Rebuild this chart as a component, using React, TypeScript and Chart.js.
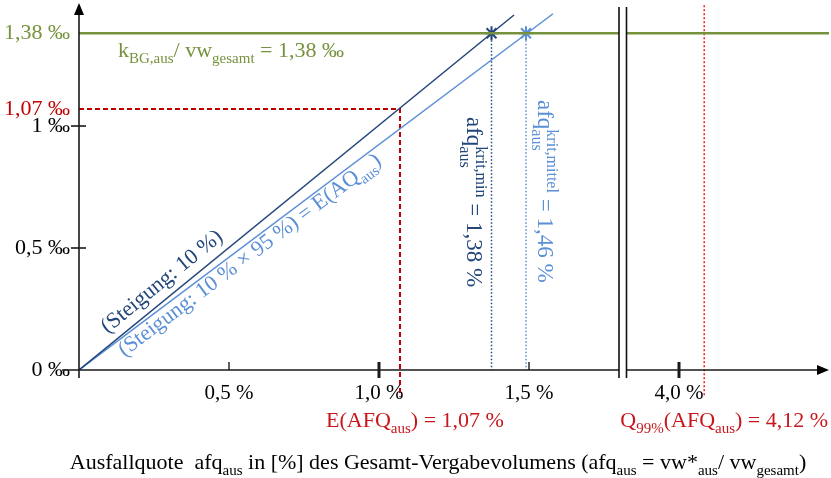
import { useEffect, useRef } from "react";
import { Chart, registerables } from "chart.js";

Chart.register(...registerables);

// ---------- data ----------
const yTickValues = [0, 0.5, 1, 1.07, 1.38]; // ‰
const yTickLabels = ["0 ‰", "0,5 ‰", "1 ‰", "1,07 ‰", "1,38 ‰"];
const xTickValues = [0.5, 1.0, 1.5, 4.0]; // %
const xTickLabels = ["0,5 %", "1,0 %", "1,5 %", "4,0 %"];

const kLimit = 1.38; // k_BG,aus / vw_gesamt in ‰
const expectedAfq = 1.07; // E(AFQ_aus) in % (and E(AQ) in ‰)
const q99Afq = 4.12; // Q99%(AFQ_aus) in %
const critMinX = 1.375; // afq krit,min (star position)
const critMittelX = 1.49; // afq krit,mittel (star position)

const darkLineX = [0, 1.45];
const darkLineY = [0, 1.455];
const lightLineX = [0, 1.58];
const lightLineY = [0, 1.46];

const guideBottom = -0.11; // guide lines reach a bit below the x axis
const guideTop = 1.495;

// broken x axis: left part shown 1:1, right part starts at 4,0 %
const X_MAX = 2.5;
const BREAK_FROM = 1.8;
const BREAK_TO = 1.825;
const RIGHT_REAL = 4.0;
const RIGHT_AT = 2.0;
const RIGHT_SCALE = 0.7;
const brk = (v: number) => (v < 3 ? v : RIGHT_AT + (v - RIGHT_REAL) * RIGHT_SCALE);

// ---------- styling ----------
const FONT = '"Liberation Serif", "Times New Roman", serif';
const DARK = "#23477a";
const LIGHT = "#5b8fd6";
const GREEN = "#76923c";
const RED = "#c00000";
const RED_TEXT = "#c8161b";
const RED_DOT = "#ff1a1a";

type Part = { t?: string; k?: "sub" | "sup"; sub?: string; sup?: string };

function drawRich(
  ctx: CanvasRenderingContext2D,
  parts: Part[],
  x: number,
  y: number,
  size: number,
  align: "left" | "center" | "right" = "left"
) {
  const small = Math.round(size * 0.68);
  const widths = parts.map((p) => {
    if (p.sub !== undefined && p.sup !== undefined) {
      ctx.font = `${small}px ${FONT}`;
      return Math.max(ctx.measureText(p.sub).width, ctx.measureText(p.sup).width);
    }
    ctx.font = `${p.k ? small : size}px ${FONT}`;
    return ctx.measureText(p.t || "").width;
  });
  const total = widths.reduce((a, b) => a + b, 0);
  let cx = align === "center" ? x - total / 2 : align === "right" ? x - total : x;
  ctx.textAlign = "left";
  ctx.textBaseline = "alphabetic";
  parts.forEach((p, i) => {
    if (p.sub !== undefined && p.sup !== undefined) {
      ctx.font = `${small}px ${FONT}`;
      ctx.fillText(p.sub, cx, y + size * 0.28);
      ctx.fillText(p.sup, cx, y - size * 0.4);
    } else {
      ctx.font = `${p.k ? small : size}px ${FONT}`;
      const dy = p.k === "sub" ? size * 0.28 : p.k === "sup" ? -size * 0.4 : 0;
      ctx.fillText(p.t || "", cx, y + dy);
    }
    cx += widths[i];
  });
}

const decorations = {
  id: "decorations",
  afterDraw(chart: any) {
    const ctx: CanvasRenderingContext2D = chart.ctx;
    const xs = chart.scales.x;
    const ys = chart.scales.y;
    const area = chart.chartArea;
    const X = (v: number) => xs.getPixelForValue(v);
    const Y = (v: number) => ys.getPixelForValue(v);
    const x0 = X(0);
    const y0 = Y(0);

    ctx.save();
    // axes
    ctx.strokeStyle = "#1a1a1a";
    ctx.fillStyle = "#000";
    ctx.lineWidth = 1.6;
    ctx.beginPath();
    ctx.moveTo(x0, y0 + 8);
    ctx.lineTo(x0, area.top + 8);
    ctx.moveTo(x0 - 17, y0);
    ctx.lineTo(area.right - 10, y0);
    ctx.stroke();
    ctx.beginPath();
    ctx.moveTo(x0, area.top - 1);
    ctx.lineTo(x0 - 5, area.top + 11);
    ctx.lineTo(x0 + 5, area.top + 11);
    ctx.closePath();
    ctx.fill();
    ctx.beginPath();
    ctx.moveTo(area.right, y0);
    ctx.lineTo(area.right - 12, y0 - 5);
    ctx.lineTo(area.right - 12, y0 + 5);
    ctx.closePath();
    ctx.fill();

    // y tick marks
    ctx.lineWidth = 1.6;
    [0.5, 1].forEach((v) => {
      ctx.beginPath();
      ctx.moveTo(x0 - 8, Y(v));
      ctx.lineTo(x0 + 7, Y(v));
      ctx.stroke();
    });
    // x tick marks
    xTickValues.forEach((v) => {
      const major = Number.isInteger(v);
      ctx.lineWidth = major ? 3 : 1.4;
      ctx.beginPath();
      ctx.moveTo(X(brk(v)), y0 - 8);
      ctx.lineTo(X(brk(v)), y0 + (major ? 8 : 0));
      ctx.stroke();
    });

    // axis break
    const b1 = X(BREAK_FROM);
    const b2 = X(BREAK_TO);
    ctx.fillStyle = "#fff";
    ctx.fillRect(b1, area.top, b2 - b1, y0 + 10 - area.top);
    ctx.strokeStyle = "#111";
    ctx.lineWidth = 1.6;
    ctx.beginPath();
    ctx.moveTo(b1, area.top + 3);
    ctx.lineTo(b1, y0 + 8);
    ctx.moveTo(b2, area.top + 3);
    ctx.lineTo(b2, y0 + 8);
    ctx.stroke();

    // green label
    ctx.fillStyle = GREEN;
    drawRich(
      ctx,
      [{ t: "k" }, { t: "BG,aus", k: "sub" }, { t: "/ vw" }, { t: "gesamt", k: "sub" }, { t: " = 1,38 ‰" }],
      x0 + 39,
      Y(kLimit) + 24,
      22
    );

    // slope labels
    const slopeLabel = (lx: number[], ly: number[], parts: Part[], d: number, off: number, color: string) => {
      const ang = Math.atan2(Y(ly[1]) - Y(ly[0]), X(lx[1]) - X(lx[0]));
      ctx.save();
      ctx.translate(X(lx[0]), Y(ly[0]));
      ctx.rotate(ang);
      ctx.fillStyle = color;
      drawRich(ctx, parts, d, off, 22);
      ctx.restore();
    };
    slopeLabel(darkLineX, darkLineY, [{ t: "(Steigung: 10 %)" }], 45, -10, DARK);
    slopeLabel(
      lightLineX,
      lightLineY,
      [{ t: "(Steigung: 10 % × 95 %) = E(AQ" }, { t: "aus", k: "sub" }, { t: ")" }],
      44,
      17,
      LIGHT
    );

    // vertical critical labels
    const vLabel = (x: number, y: number, parts: Part[], color: string) => {
      ctx.save();
      ctx.translate(x, y);
      ctx.rotate(Math.PI / 2);
      ctx.fillStyle = color;
      drawRich(ctx, parts, 0, 0, 23);
      ctx.restore();
    };
    vLabel(X(critMinX) - 25, 117, [{ t: "afq" }, { sub: "aus", sup: "krit,min" }, { t: " = 1,38 %" }], DARK);
    vLabel(X(critMittelX) + 12, 100, [{ t: "afq" }, { sub: "aus", sup: "krit,mittel" }, { t: " = 1,46 %" }], LIGHT);

    // red annotations under the axis
    ctx.fillStyle = RED_TEXT;
    drawRich(ctx, [{ t: "E(AFQ" }, { t: "aus", k: "sub" }, { t: ") = 1,07 %" }], X(expectedAfq) + 15, 427, 22, "center");
    drawRich(
      ctx,
      [{ t: "Q" }, { t: "99%", k: "sub" }, { t: "(AFQ" }, { t: "aus", k: "sub" }, { t: ") = 4,12 %" }],
      X(brk(q99Afq)) + 20,
      427,
      22,
      "center"
    );

    // axis title
    ctx.fillStyle = "#000";
    drawRich(
      ctx,
      [
        { t: "Ausfallquote  afq" },
        { t: "aus", k: "sub" },
        { t: " in [%] des Gesamt-Vergabevolumens (afq" },
        { t: "aus", k: "sub" },
        { t: " = vw*" },
        { t: "aus", k: "sub" },
        { t: "/ vw" },
        { t: "gesamt", k: "sub" },
        { t: ")" },
      ],
      438,
      469,
      22,
      "center"
    );
    ctx.restore();
  },
};

const noPad = (s: any) => {
  s.paddingTop = 0;
  s.paddingBottom = 0;
  s.paddingLeft = 0;
  s.paddingRight = 0;
};

export default function App() {
  const ref = useRef<HTMLCanvasElement | null>(null);

  useEffect(() => {
    document.body.style.margin = "0";
    const canvas = ref.current;
    if (!canvas) return;

    const pts = (xv: number[], yv: number[]) => xv.map((x, i) => ({ x, y: yv[i] }));
    const line = (data: any[], color: string, extra: any = {}) => ({
      data,
      borderColor: color,
      backgroundColor: color,
      borderWidth: 1.5,
      pointRadius: 0,
      tension: 0,
      ...extra,
    });

    const chart = new Chart(canvas, {
      type: "line",
      data: {
        datasets: [
          line(
            [
              { x: 0, y: kLimit },
              { x: X_MAX, y: kLimit },
            ],
            GREEN,
            { borderWidth: 2.6 }
          ),
          line(pts(darkLineX, darkLineY), DARK),
          line(pts(lightLineX, lightLineY), LIGHT),
          line(
            [
              { x: critMinX, y: kLimit },
              { x: critMinX, y: 0 },
            ],
            DARK,
            { borderDash: [1.5, 2] }
          ),
          line(
            [
              { x: critMittelX, y: kLimit },
              { x: critMittelX, y: 0 },
            ],
            LIGHT,
            { borderDash: [1.5, 2] }
          ),
          line([{ x: critMinX, y: kLimit }], DARK, {
            pointRadius: 7,
            pointStyle: "star",
            pointBorderWidth: 2,
            showLine: false,
          }),
          line([{ x: critMittelX, y: kLimit }], LIGHT, {
            pointRadius: 7,
            pointStyle: "star",
            pointBorderWidth: 2,
            showLine: false,
          }),
          line(
            [
              { x: 0, y: expectedAfq },
              { x: expectedAfq, y: expectedAfq },
              { x: expectedAfq, y: guideBottom },
            ],
            RED,
            { borderDash: [5, 3], borderWidth: 2, clip: false }
          ),
          line(
            [
              { x: brk(q99Afq), y: guideTop },
              { x: brk(q99Afq), y: guideBottom },
            ],
            RED_DOT,
            { borderDash: [2, 2], borderWidth: 1.5, clip: false }
          ),
        ],
      },
      options: {
        animation: false,
        responsive: false,
        devicePixelRatio: 1,
        layout: { autoPadding: false, padding: { top: 4, right: 2, left: 0, bottom: 0 } },
        plugins: { legend: { display: false }, tooltip: { enabled: false } },
        scales: {
          x: {
            type: "linear",
            min: 0,
            max: X_MAX,
            border: { display: false },
            grid: { display: false, drawTicks: false },
            ticks: {
              autoSkip: false,
              maxRotation: 0,
              padding: 11,
              color: "#000",
              font: { family: FONT, size: 21 },
              callback: (_v: any, i: number) => xTickLabels[i] ?? "",
            },
            afterBuildTicks: (s: any) => {
              s.ticks = xTickValues.map((v) => ({ value: brk(v) }));
            },
            afterFit: (s: any) => {
              s.height = 108;
              noPad(s);
            },
          },
          y: {
            type: "linear",
            min: 0,
            max: 1.5,
            border: { display: false },
            grid: { display: false, drawTicks: false },
            ticks: {
              autoSkip: false,
              padding: 9,
              font: { family: FONT, size: 22 },
              color: (c: any) => (c.index === 3 ? RED : c.index === 4 ? GREEN : "#000"),
              callback: (_v: any, i: number) => yTickLabels[i] ?? "",
            },
            afterBuildTicks: (s: any) => {
              s.ticks = yTickValues.map((v) => ({ value: v }));
            },
            afterFit: (s: any) => {
              s.width = 79;
              noPad(s);
            },
          },
        },
      },
      plugins: [decorations],
    } as any);

    return () => chart.destroy();
  }, []);

  return (
    <div style={{ width: 831, height: 478 }}>
      <canvas ref={ref} width={831} height={478} style={{ display: "block" }} />
    </div>
  );
}
